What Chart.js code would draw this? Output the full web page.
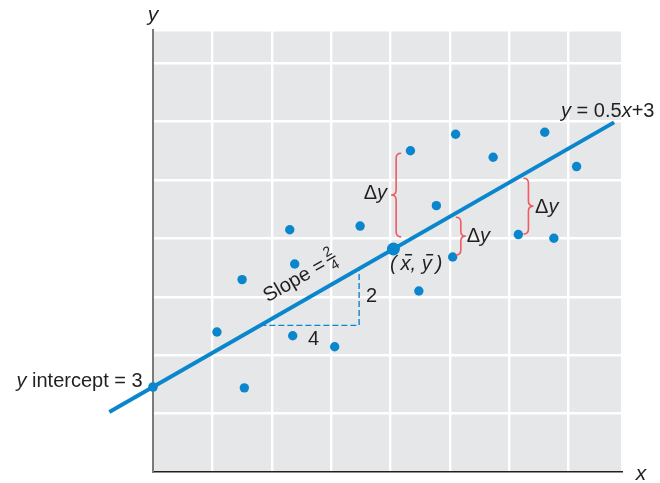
<!DOCTYPE html>
<html>
<head>
<meta charset="utf-8">
<script src="https://cdn.jsdelivr.net/npm/chart.js"></script>
<style>
  html, body { margin: 0; padding: 0; background: #fff; }
  #box { width: 660px; height: 483px; }
</style>
</head>
<body>
<div id="box"><canvas id="myChart"></canvas></div>
<script>
// scatter data
var pointX = [2.59, 3.70, 3.61, 5.54, 5.74, 5.66, 7.36, 8.39, 10.43, 10.77, 11.48, 12.14, 12.26, 13.78, 14.80, 15.87, 16.24, 17.16];
var pointY = [4.94, 2.97, 6.79, 8.55, 7.34, 4.81, 4.42, 8.68, 11.34, 6.39, 9.40, 7.59, 11.92, 11.11, 8.38, 11.99, 8.25, 10.78];

// fitted line y = 0.5x + 3
var lineX = [-1.77, 18.68];
var lineY = [2.115, 12.34];
var interceptXY = [0, 3];
var meanXY = [9.74, 7.87];

// slope triangle (run 4, rise 2)
var triX = [4.35, 8.35, 8.35];
var triY = [5.175, 5.175, 7.175];

// delta-y braces: x, top, bottom, tip direction
var braceX = [9.85, 12.47, 15.21];
var braceTop = [11.25, 8.99, 10.37];
var braceBottom = [8.30, 7.66, 8.40];
var braceTip = [-1, 1, 1];

var blue = '#0a86cd';
var red = '#ef5b60';
var FONT = '"Liberation Sans", Arial, sans-serif';

function xy(xs, ys) {
    return xs.map(function (v, i) { return { x: v, y: ys[i] }; });
}

// draw a row of text pieces, some italic, some with an overbar
function drawRuns(c, runs, x, y, size, align) {
    var total = 0;
    runs.forEach(function (r) {
        c.font = (r.it ? 'italic ' : '') + size + 'px ' + FONT;
        r.w = c.measureText(r.t).width;
        total += r.w;
    });
    var cx = align === 'right' ? x - total : (align === 'center' ? x - total / 2 : x);
    runs.forEach(function (r) {
        c.font = (r.it ? 'italic ' : '') + size + 'px ' + FONT;
        c.fillText(r.t, cx, y);
        if (r.bar) c.fillRect(cx + r.w * 0.45, y - size * 0.8, r.w * 0.7, 1.5);
        cx += r.w;
    });
}

function brace(c, x, y1, y2, d) {
    var w = 5, r = 5, ym = (y1 + y2) / 2;
    c.beginPath();
    c.moveTo(x - d * w, y1);
    c.quadraticCurveTo(x, y1, x, y1 + r);
    c.lineTo(x, ym - r);
    c.quadraticCurveTo(x, ym, x + d * w, ym);
    c.quadraticCurveTo(x, ym, x, ym + r);
    c.lineTo(x, y2 - r);
    c.quadraticCurveTo(x, y2, x - d * w, y2);
    c.stroke();
}

var decor = {
    id: 'decor',
    beforeDraw: function (chart) {
        var a = chart.chartArea, c = chart.ctx;
        c.save();
        c.fillStyle = '#e6e7e9';
        c.fillRect(a.left, a.top, a.right - a.left, a.bottom - a.top);
        c.restore();
    },
    afterDatasetsDraw: function (chart) {
        var c = chart.ctx, a = chart.chartArea;
        var xs = chart.scales.x, ys = chart.scales.y;
        var X = function (v) { return xs.getPixelForValue(v); };
        var Y = function (v) { return ys.getPixelForValue(v); };
        c.save();

        // braces
        c.strokeStyle = red;
        c.lineWidth = 1.6;
        for (var i = 0; i < braceX.length; i++) {
            brace(c, X(braceX[i]), Y(braceTop[i]), Y(braceBottom[i]), braceTip[i]);
        }

        c.fillStyle = '#231f20';
        c.textBaseline = 'alphabetic';
        var dy = [{ t: '\u0394' }, { t: 'y', it: true }];
        drawRuns(c, dy, X(9.48), Y(9.63), 20, 'right');
        drawRuns(c, dy, X(12.71), Y(8.13), 20, 'left');
        drawRuns(c, dy, X(15.48), Y(9.13), 20, 'left');

        drawRuns(c, [{ t: 'y', it: true }, { t: ' = 0.5' }, { t: 'x', it: true }, { t: '+3' }], X(16.53), Y(12.53), 20, 'left');
        drawRuns(c, [{ t: 'y', it: true }, { t: ' intercept = 3' }], X(-0.42), Y(3.0), 20, 'right');
        drawRuns(c, [{ t: '(\u2009', it: true }, { t: 'x', it: true, bar: true }, { t: ', ', it: true }, { t: 'y', it: true, bar: true }, { t: '\u2009)', it: true }], X(10.66), Y(7.13), 20, 'center');
        drawRuns(c, [{ t: '2' }], X(8.63), Y(6.01), 20, 'left');
        drawRuns(c, [{ t: '4' }], X(6.28), Y(4.48), 20, 'left');

        // axis letters
        drawRuns(c, [{ t: 'y', it: true }], a.left, a.top - 9, 21, 'center');
        drawRuns(c, [{ t: 'x', it: true }], a.right + 19, a.bottom + 8, 21, 'center');

        // slope label, rotated along the fitted line
        var ang = Math.atan2(Y(lineY[1]) - Y(lineY[0]), X(lineX[1]) - X(lineX[0]));
        c.translate(X(4.65), Y(5.98));
        c.rotate(ang);
        c.font = '20px ' + FONT;
        c.fillText('Slope = ', 0, 0);
        var w0 = c.measureText('Slope = ').width - 2;
        c.font = '14px ' + FONT;
        c.textAlign = 'center';
        c.fillText('2', w0 + 5, -10);
        c.fillRect(w0, -7.5, 10, 1.3);
        c.fillText('4', w0 + 5, 5);
        c.restore();
    }
};

var ctx = document.getElementById('myChart').getContext('2d');
var chart = new Chart(ctx, {
    type: 'scatter',
    data: {
        datasets: [{
            label: 'mean',
            data: [{ x: meanXY[0], y: meanXY[1] }],
            backgroundColor: blue,
            borderWidth: 0,
            pointRadius: 6.5
        }, {
            label: 'intercept',
            data: [{ x: interceptXY[0], y: interceptXY[1] }],
            backgroundColor: blue,
            borderWidth: 0,
            pointRadius: 4.8,
            clip: false
        }, {
            label: 'points',
            data: xy(pointX, pointY),
            backgroundColor: blue,
            borderWidth: 0,
            pointRadius: 4.7
        }, {
            label: 'fit',
            type: 'line',
            data: xy(lineX, lineY),
            borderColor: blue,
            borderWidth: 4,
            pointRadius: 0,
            borderCapStyle: 'butt',
            clip: false
        }, {
            label: 'triangle',
            type: 'line',
            data: xy(triX, triY),
            borderColor: blue,
            borderWidth: 1.4,
            borderDash: [6, 3],
            pointRadius: 0
        }]
    },
    options: {
        responsive: true,
        maintainAspectRatio: false,
        animation: false,
        layout: { padding: { left: 153, right: 38, top: 30, bottom: 11 } },
        plugins: { legend: { display: false }, tooltip: { enabled: false } },
        scales: {
            x: {
                type: 'linear', min: 0, max: 19,
                grid: { display: false, drawTicks: false },
                ticks: { display: false },
                border: { color: '#231f20', width: 1.5 }
            },
            y: {
                type: 'linear', min: 0, max: 15.6,
                grid: { display: false, drawTicks: false },
                ticks: { display: false },
                border: { color: '#7a7a7a', width: 2 }
            },
            gx: {
                type: 'linear', position: 'bottom', min: 0, max: 7.9,
                ticks: { display: false, stepSize: 1 },
                grid: {
                    drawTicks: false, lineWidth: 2.4,
                    color: function (c) { return c.tick && c.tick.value === 0 ? 'rgba(0,0,0,0)' : '#ffffff'; }
                },
                border: { display: false }
            },
            gy: {
                type: 'linear', position: 'left', min: 0, max: 7.57,
                ticks: { display: false, stepSize: 1 },
                grid: {
                    drawTicks: false, lineWidth: 2.4,
                    color: function (c) { return c.tick && c.tick.value === 0 ? 'rgba(0,0,0,0)' : '#ffffff'; }
                },
                border: { display: false }
            }
        }
    },
    plugins: [decor]
});
</script>
</body>
</html>
